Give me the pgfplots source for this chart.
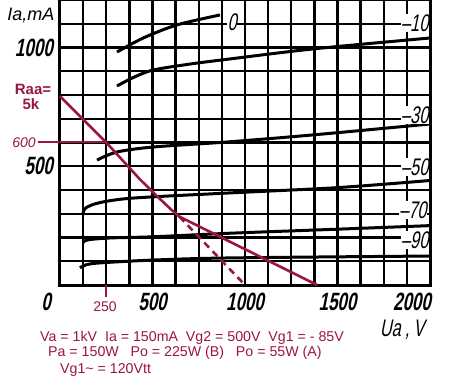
\documentclass[border=0pt]{standalone}
\usepackage{fontspec}
\setmainfont{Liberation Sans}
\newfontfamily\gost[FakeStretch=0.68,FakeSlant=0.2]{Liberation Sans}
\usepackage{pgfplots}
\pgfplotsset{compat=1.18}
\definecolor{raa}{RGB}{155,20,70}
\begin{document}
\begin{tikzpicture}
\path[use as bounding box] (-60pt,-106pt) rectangle (393pt,285pt);
\begin{axis}[
  scale only axis, width=370pt, height=285pt,
  xmin=0, xmax=2000, ymin=0, ymax=1200,
  clip=false,
  axis line style={line width=3pt},
  xtick={0,500,1000,1500,2000},
  xticklabels={{0\rule{28pt}{0pt}},500,1000,1500,{2000\rule{36pt}{0pt}}},
  ytick={500,1000}, yticklabels={500,1000},
  minor xtick={125,250,...,1875},
  minor ytick={100,200,...,1100},
  grid=both,
  major grid style={line width=2.3pt, black},
  minor grid style={line width=2.3pt, black},
  major tick length=0pt, minor tick length=0pt,
  xticklabel style={font=\gost\bfseries\fontsize{25}{25}\selectfont, inner sep=0pt, anchor=north, yshift=-8pt},
  yticklabel style={font=\gost\bfseries\fontsize{25}{25}\selectfont, inner sep=0pt, anchor=east, xshift=-7pt},
]
% characteristic curves
\addplot[black, line width=3pt, smooth] coordinates {(308,981)(450,1040)(632,1095)(865,1137)};
\addplot[black, line width=3pt, smooth] coordinates {(308,838)(400,875)(503,905)(700,930)(900,950)(1368,994)(2000,1040)};
\addplot[black, line width=3pt, smooth] coordinates {(200,526)(308,560)(503,581)(900,602)(1368,632)(2000,678)};
\addplot[black, line width=3pt, smooth] coordinates {(124,300)(140,325)(216,347)(395,366)(900,387)(1500,410)(2000,440)};
\addplot[black, line width=3pt, smooth] coordinates {(124,178)(150,190)(270,198)(503,203)(919,218)(1500,235)(2000,250)};
\addplot[black, line width=3pt, smooth] coordinates {(108,72)(140,85)(216,93)(503,105)(919,114)(2000,122)};
% load lines
\addplot[raa, line width=2.6pt] coordinates {(0,795)(250,600)(432,445)(530,370)(600,318)(645,288)(1390,0)};
\addplot[raa, line width=2.6pt, dash pattern=on 7pt off 5pt] coordinates {(645,288)(1000,0)};
\addplot[raa, line width=2pt] coordinates {(-119,600)(254,600)};
\addplot[raa, line width=2pt] coordinates {(250,0)(250,-52)};
% curve labels
\tikzset{clab/.style={fill=white, inner sep=0.5pt, font=\gost\fontsize{24}{24}\selectfont}}
\node[clab] at (axis cs:930,1107) {0};
\node[clab, anchor=east] at (axis cs:1995,1103) {\textendash10};
\node[clab, anchor=east] at (axis cs:1995,716) {\textendash30};
\node[clab, anchor=east] at (axis cs:1995,497) {\textendash50};
\node[clab, anchor=east] at (axis cs:1985,316) {\textendash70};
\node[clab, anchor=east] at (axis cs:1995,189) {\textendash90};
% axis texts
\node[font=\itshape\fontsize{18}{18}\selectfont] at (axis cs:-157,1137) {Ia,mA};
\node[font=\gost\fontsize{24}{24}\selectfont] at (axis cs:1849,-189) {Ua\,,\,V};
\node[text=raa, inner sep=0pt, font=\bfseries\fontsize{15}{15}\selectfont] at (axis cs:-146,824) {Raa=};
\node[text=raa, inner sep=0pt, font=\bfseries\fontsize{15}{15}\selectfont] at (axis cs:-157,762) {5k};
\node[text=raa, anchor=east, inner sep=1pt, font=\itshape\fontsize{14}{14}\selectfont] at (axis cs:-125,600) {600};
\node[text=raa, font=\fontsize{14}{14}\selectfont] at (axis cs:243,-93) {250};
\node[anchor=base west, inner sep=0pt, text=raa, font=\fontsize{14.2}{14.2}\selectfont] at (axis cs:-108,-236) {Va = 1kV\ \ Ia = 150mA\ \ Vg2 = 500V\ \ Vg1 = - 85V};
\node[anchor=base west, inner sep=0pt, text=raa, font=\fontsize{14.2}{14.2}\selectfont] at (axis cs:-65,-303) {Pa = 150W\ \ \ Po = 225W (B)\ \ \ Po = 55W (A)};
\node[anchor=base west, inner sep=0pt, text=raa, font=\fontsize{14.2}{14.2}\selectfont] at (axis cs:0,-371) {Vg1\textasciitilde\ = 120Vtt};
\end{axis}
\end{tikzpicture}
\end{document}
